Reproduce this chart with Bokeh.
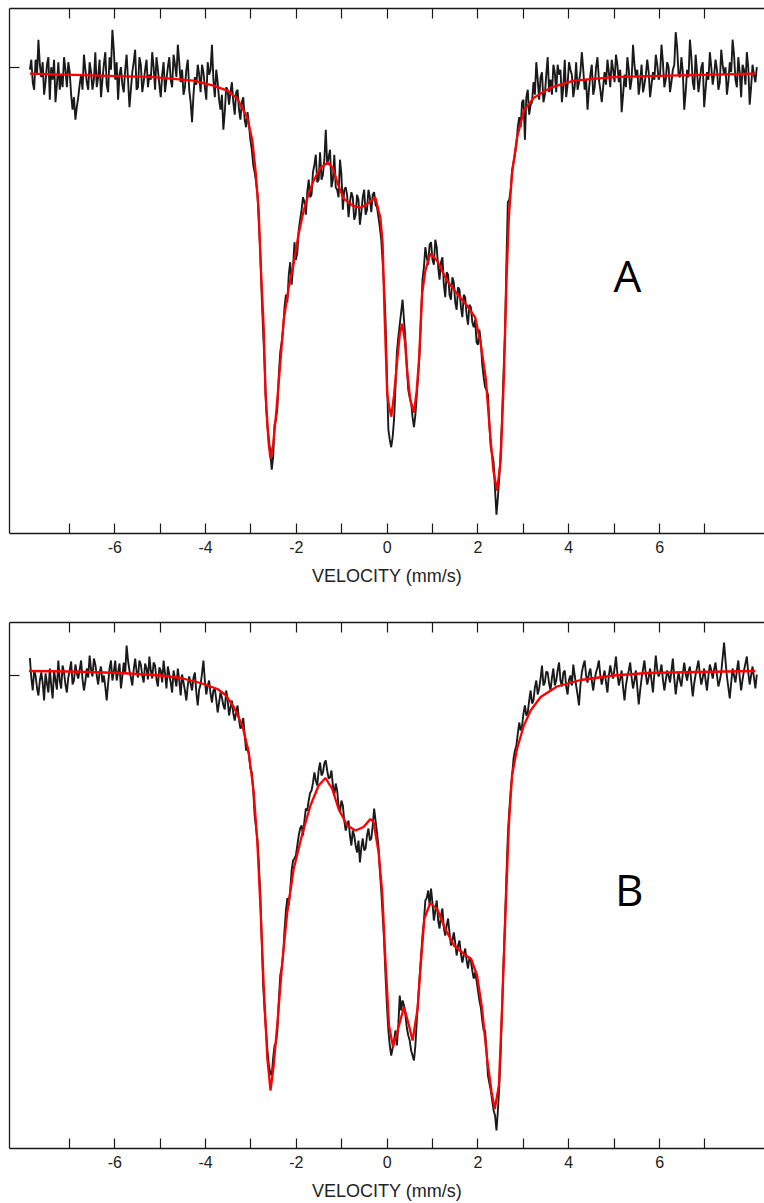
import numpy as np
from bokeh.plotting import figure
from bokeh.models import Range1d, LinearAxis, FixedTicker, Label
from bokeh.layouts import column
from bokeh.embed import file_html
from bokeh.resources import INLINE

# channel velocities (mm/s): 512 equally spaced spectrometer channels
n_channels = 512
velocity = np.linspace(-7.87, 8.1413, n_channels)

# spectrum A, relative transmission (%): even channels
counts_a_even = [
    99.95, 99.70, 100.15, 100.55, 99.80, 99.45, 100.05, 99.35, 99.75, 99.30,
    100.10, 99.85, 100.20, 99.60, 99.90, 99.15, 98.95, 99.40, 99.85, 100.25,
    99.70, 100.10, 99.55, 100.30, 99.80, 99.40, 100.05, 99.65, 100.20, 100.75,
    99.75, 99.35, 100.00, 99.50, 100.25, 99.20, 99.90, 100.35, 99.60, 100.05,
    99.70, 100.15, 99.85, 100.30, 99.55, 99.95, 99.40, 100.10, 99.75, 100.20,
    99.60, 100.05, 100.45, 99.70, 99.45, 99.95, 99.55, 98.90, 99.80, 100.05,
    99.50, 99.90, 99.35, 99.85, 100.45, 99.40, 99.70, 99.15, 98.75, 99.60,
    99.25, 99.70, 99.05, 99.55, 98.95, 99.40, 98.80, 98.85, 98.35, 97.90,
    97.45, 96.30, 94.70, 93.25, 92.55, 91.95, 92.85, 93.20, 94.30, 94.75,
    95.45, 95.85, 95.65, 96.50, 96.30, 96.95, 97.40, 97.05, 97.75, 97.45,
    98.05, 97.70, 98.30, 97.85, 98.75, 98.20, 97.60, 98.25, 97.55, 98.15,
    97.15, 97.60, 97.00, 97.50, 96.95, 97.45, 96.85, 97.40, 97.05, 97.55,
    97.10, 97.50, 97.20, 96.80, 96.10, 94.95, 92.75, 92.40, 92.95, 94.30,
    94.85, 95.35, 94.55, 93.55, 93.30, 92.80, 93.45, 94.30, 95.75, 96.40,
    96.05, 96.50, 96.05, 96.40, 95.75, 96.20, 95.40, 95.85, 95.35, 95.70,
    95.15, 95.55, 95.00, 95.40, 94.85, 95.20, 94.80, 94.50, 94.75, 94.05,
    93.60, 93.45, 92.40, 92.10, 91.05, 91.80, 93.05, 94.70, 97.30, 97.55,
    98.10, 98.45, 99.00, 99.30, 98.55, 99.55, 99.25, 99.70, 100.10, 99.35,
    99.90, 99.45, 100.20, 99.75, 100.05, 99.50, 99.85, 99.30, 100.15, 99.65,
    99.95, 99.40, 100.10, 99.70, 100.30, 99.55, 99.15, 99.85, 99.45, 100.00,
    99.75, 99.30, 99.90, 100.15, 99.60, 99.95, 100.25, 99.70, 99.10, 99.85,
    100.20, 99.55, 100.45, 99.80, 99.45, 100.05, 99.65, 100.15, 99.40, 99.90,
    100.25, 99.75, 100.45, 99.60, 100.10, 99.50, 99.95, 100.70, 99.85, 100.20,
    99.15, 99.95, 100.55, 99.70, 100.25, 99.50, 100.00, 99.20, 99.90, 100.30,
    99.65, 100.15, 99.55, 100.35, 99.85, 99.45, 100.10, 100.55, 99.75, 100.20,
    99.40, 99.95, 100.30, 99.25, 100.05, 99.70,
]
# spectrum A: odd channels
counts_a_odd = [
    100.15, 99.55, 99.85, 100.05, 100.10, 99.70, 100.20, 100.00, 100.15, 99.65,
    99.55, 99.60, 99.95, 100.10, 99.45, 99.40, 99.20, 99.65, 99.55, 99.95,
    99.55, 99.90, 99.75, 99.60, 100.15, 99.75, 100.30, 99.50, 99.95, 100.35,
    100.10, 99.85, 99.65, 99.95, 99.75, 99.55, 100.10, 99.55, 100.20, 99.50,
    99.95, 99.60, 99.75, 100.00, 100.20, 99.65, 99.85, 99.50, 100.00, 99.75,
    100.25, 99.80, 100.10, 99.95, 99.60, 100.15, 99.30, 99.45, 99.65, 99.85,
    100.05, 99.60, 100.10, 99.95, 99.75, 99.95, 99.35, 99.45, 99.10, 99.55,
    99.50, 99.30, 99.50, 99.15, 99.30, 98.95, 99.10, 98.55, 98.05, 97.70,
    96.85, 95.40, 94.05, 92.80, 92.30, 92.20, 92.95, 93.85, 94.50, 95.20,
    95.30, 96.10, 96.00, 96.15, 96.75, 97.15, 97.30, 97.50, 97.40, 97.90,
    98.25, 97.75, 97.75, 98.15, 98.05, 98.35, 97.75, 97.60, 97.40, 97.85,
    97.55, 97.45, 97.30, 97.40, 97.05, 97.35, 97.10, 97.55, 97.15, 97.40,
    97.45, 97.25, 97.00, 96.55, 95.60, 93.80, 92.55, 92.60, 93.60, 94.60,
    95.10, 94.95, 94.00, 93.40, 93.00, 93.05, 93.85, 95.05, 96.00, 96.20,
    96.45, 96.15, 96.55, 96.00, 96.10, 95.65, 95.90, 95.45, 95.80, 95.30,
    95.60, 95.20, 95.45, 95.05, 95.25, 94.90, 94.95, 94.45, 94.50, 93.80,
    93.55, 92.85, 92.25, 91.55, 91.40, 92.35, 93.90, 96.10, 97.35, 97.95,
    98.25, 98.80, 98.80, 99.35, 99.40, 99.05, 99.30, 99.45, 99.75, 99.80,
    99.30, 99.85, 99.50, 99.45, 99.90, 100.05, 99.95, 99.60, 99.40, 100.10,
    99.85, 99.60, 99.55, 99.90, 99.95, 99.75, 99.55, 100.05, 99.60, 100.20,
    99.55, 99.60, 99.65, 99.90, 100.15, 99.70, 100.05, 99.95, 99.45, 99.60,
    99.95, 99.75, 100.05, 99.95, 99.70, 99.50, 99.85, 99.90, 99.65, 99.75,
    100.05, 99.85, 100.10, 99.75, 100.00, 99.70, 100.05, 100.40, 99.80, 99.90,
    99.50, 99.80, 100.20, 99.55, 99.90, 99.75, 100.10, 99.55, 99.75, 100.00,
    99.85, 99.95, 99.70, 100.05, 100.00, 99.70, 99.90, 100.25, 99.60, 99.90,
    100.05, 99.65, 100.00, 99.60, 99.85, 100.00,
]

fit_v_a = [
    -7.87, -5.15, -4.27, -3.83, -3.52, -3.30, -3.08, -2.97, -2.90, -2.83,
    -2.79, -2.72, -2.68, -2.61, -2.57, -2.51, -2.44, -2.35, -2.28, -2.17,
    -2.06, -1.95, -1.84, -1.73, -1.62, -1.47, -1.31, -1.20, -1.09, -0.96,
    -0.76, -0.59, -0.43, -0.26, -0.19, -0.15, -0.10, -0.06, 0.00, 0.04,
    0.09, 0.15, 0.22, 0.28, 0.33, 0.39, 0.44, 0.51, 0.59, 0.65,
    0.70, 0.77, 0.84, 0.95, 1.10, 1.32, 1.54, 1.76, 1.94, 2.06,
    2.17, 2.28, 2.34, 2.42, 2.50, 2.57, 2.63, 2.68, 2.75, 2.86,
    3.01, 3.23, 3.60, 4.11, 4.99, 5.73, 7.19, 8.11,
]
fit_a = [
    99.87, 99.80, 99.73, 99.63, 99.53, 99.37, 98.99, 98.53, 97.93, 97.13,
    96.13, 94.79, 93.47, 92.47, 92.17, 92.47, 93.13, 94.13, 94.93, 95.59,
    96.07, 96.67, 97.13, 97.47, 97.73, 97.99, 98.09, 97.99, 97.67, 97.37,
    97.23, 97.19, 97.27, 97.39, 97.13, 96.99, 96.47, 95.13, 93.47, 93.23,
    93.01, 93.43, 94.13, 94.67, 94.87, 94.53, 93.93, 93.33, 93.09, 93.53,
    94.13, 95.47, 95.93, 96.27, 96.13, 95.73, 95.47, 95.23, 94.99, 94.47,
    93.79, 92.53, 91.93, 91.53, 92.13, 93.79, 95.79, 96.99, 97.87, 98.59,
    99.13, 99.39, 99.59, 99.73, 99.80, 99.82, 99.85, 99.87,
]

# spectrum B, relative transmission (%): even channels
counts_b_even = [
    100.35, 99.70, 100.00, 99.60, 100.06, 99.50, 99.84, 100.14, 99.54, 99.90,
    100.30, 99.74, 100.06, 99.66, 100.10, 99.82, 100.22, 99.94, 100.30, 99.70,
    100.14, 100.40, 99.98, 100.22, 99.82, 100.18, 100.00, 99.50, 100.14, 99.90,
    100.30, 100.06, 99.74, 100.26, 100.60, 100.10, 99.80, 100.34, 99.96, 100.22,
    99.86, 100.14, 100.38, 99.94, 100.20, 99.78, 100.10, 100.30, 99.74, 100.02,
    99.66, 99.94, 100.14, 99.60, 99.86, 99.50, 99.98, 99.70, 100.06, 99.40,
    99.82, 100.30, 99.62, 99.90, 99.46, 99.74, 99.26, 99.66, 99.40, 99.70,
    99.20, 99.50, 99.10, 99.40, 98.94, 99.15, 98.50, 98.40, 98.06, 97.20,
    96.70, 95.60, 93.80, 92.90, 92.20, 92.00, 92.60, 92.90, 94.00, 94.40,
    95.30, 95.40, 96.10, 96.34, 96.60, 96.94, 96.80, 97.34, 97.50, 97.70,
    98.06, 97.80, 98.26, 98.06, 98.30, 97.94, 98.10, 97.60, 97.70, 97.26,
    97.40, 96.90, 97.10, 96.60, 96.80, 96.46, 96.26, 96.74, 96.54, 96.94,
    96.74, 97.34, 96.86, 96.10, 95.20, 94.00, 92.90, 92.40, 92.70, 92.60,
    93.60, 93.50, 93.20, 92.80, 92.50, 92.30, 93.10, 94.00, 94.80, 95.50,
    95.70, 95.74, 95.10, 95.50, 94.94, 95.34, 94.80, 95.14, 94.60, 94.86,
    94.40, 94.70, 94.26, 94.54, 94.14, 94.30, 93.94, 93.90, 93.50, 93.10,
    92.90, 92.00, 91.70, 91.30, 90.90, 91.80, 93.40, 95.10, 96.80, 97.70,
    98.34, 98.60, 99.06, 99.00, 99.40, 99.26, 99.70, 99.50, 99.90, 99.74,
    100.20, 99.86, 100.06, 99.70, 100.14, 99.90, 100.26, 99.78, 100.10, 99.62,
    100.00, 100.22, 99.80, 99.40, 100.06, 100.30, 99.86, 100.14, 99.70, 100.06,
    100.30, 99.82, 100.10, 99.66, 100.20, 99.94, 100.38, 99.80, 100.10, 99.50,
    99.98, 100.26, 99.74, 100.10, 99.42, 99.94, 100.30, 99.82, 100.14, 99.66,
    100.40, 99.98, 100.22, 99.70, 100.10, 99.86, 100.34, 99.62, 100.06, 99.78,
    100.26, 99.90, 100.18, 99.58, 100.02, 100.30, 99.82, 100.14, 99.70, 100.22,
    99.94, 100.26, 99.78, 100.06, 100.66, 99.98, 99.54, 100.14, 99.86, 100.30,
    99.70, 100.10, 100.38, 99.82, 100.18, 99.74,
]
# spectrum B: odd channels
counts_b_odd = [
    99.95, 100.10, 99.75, 99.90, 99.85, 100.04, 99.66, 99.80, 100.10, 99.72,
    99.90, 100.20, 99.82, 99.96, 100.28, 99.90, 100.04, 100.12, 99.92, 99.88,
    99.96, 100.12, 100.34, 100.00, 100.06, 99.86, 99.78, 99.84, 100.30, 100.08,
    99.90, 100.24, 99.98, 100.04, 100.30, 99.96, 100.12, 100.08, 100.30, 100.00,
    100.24, 99.92, 100.10, 100.26, 99.92, 100.16, 99.86, 100.04, 100.18, 99.86,
    100.10, 99.78, 99.90, 100.02, 99.70, 99.80, 99.84, 99.96, 99.66, 99.72,
    100.04, 99.90, 99.80, 99.64, 99.70, 99.52, 99.46, 99.56, 99.32, 99.52,
    99.36, 99.24, 99.28, 99.12, 98.98, 98.80, 98.56, 98.14, 97.70, 96.95,
    96.20, 94.70, 93.30, 92.50, 92.05, 92.35, 92.65, 93.50, 94.15, 94.90,
    95.55, 95.70, 96.30, 96.40, 96.80, 97.00, 97.10, 97.30, 97.65, 97.85,
    97.90, 98.10, 98.00, 98.24, 98.10, 97.96, 97.80, 97.84, 97.40, 97.50,
    97.10, 97.00, 96.80, 96.90, 96.60, 96.70, 96.56, 96.50, 96.80, 96.70,
    97.00, 97.10, 96.60, 95.70, 94.70, 93.40, 92.60, 92.55, 92.90, 93.00,
    93.30, 93.40, 92.95, 92.70, 92.40, 92.60, 93.55, 94.40, 95.10, 95.55,
    95.40, 95.45, 95.30, 95.10, 95.20, 94.95, 95.00, 94.85, 94.70, 94.65,
    94.60, 94.44, 94.40, 94.30, 94.36, 94.10, 94.06, 93.70, 93.36, 92.90,
    92.50, 91.85, 91.50, 91.20, 91.30, 92.50, 94.30, 96.00, 97.30, 98.00,
    98.50, 98.84, 98.90, 99.24, 99.20, 99.50, 99.44, 99.76, 99.62, 99.94,
    99.80, 100.08, 99.84, 99.96, 99.80, 100.10, 99.90, 100.06, 99.78, 99.92,
    99.80, 100.00, 99.62, 99.80, 100.20, 100.00, 100.04, 99.90, 99.92, 100.16,
    100.00, 99.96, 99.86, 100.00, 100.04, 100.14, 100.04, 99.94, 99.76, 99.80,
    100.10, 99.96, 99.90, 99.76, 99.70, 100.12, 100.02, 99.96, 99.90, 100.04,
    100.12, 100.06, 99.92, 99.90, 100.00, 100.10, 99.94, 99.86, 99.90, 100.04,
    100.04, 100.08, 99.86, 99.84, 100.16, 100.02, 99.96, 99.90, 100.00, 100.10,
    100.12, 100.00, 99.90, 100.36, 100.30, 99.76, 99.86, 100.00, 100.10, 99.96,
    99.92, 100.24, 100.06, 100.00, 99.96, 100.02,
]

fit_v_b = [
    -7.89, -6.98, -5.87, -4.99, -4.55, -4.11, -3.74, -3.56, -3.38, -3.19,
    -3.05, -2.94, -2.86, -2.79, -2.72, -2.64, -2.57, -2.50, -2.41, -2.31,
    -2.20, -2.06, -1.87, -1.69, -1.51, -1.36, -1.21, -1.07, -0.88, -0.70,
    -0.52, -0.37, -0.30, -0.19, -0.11, -0.04, 0.04, 0.13, 0.26, 0.37,
    0.48, 0.56, 0.67, 0.75, 0.82, 0.95, 1.10, 1.28, 1.47, 1.69,
    1.85, 1.98, 2.09, 2.20, 2.30, 2.37, 2.46, 2.53, 2.61, 2.68,
    2.75, 2.86, 3.01, 3.16, 3.38, 3.74, 4.26, 4.99, 5.73, 6.83,
    8.11,
]
fit_b = [
    100.09, 100.08, 100.05, 100.00, 99.95, 99.85, 99.73, 99.61, 99.37, 99.00,
    98.47, 97.67, 96.67, 95.34, 93.80, 92.34, 91.70, 92.20, 93.14, 94.27,
    95.27, 96.13, 96.83, 97.40, 97.80, 97.95, 97.73, 97.33, 97.00, 96.90,
    96.97, 97.13, 97.07, 96.47, 95.67, 94.33, 93.00, 92.57, 93.00, 93.37,
    93.00, 92.70, 93.34, 94.34, 95.14, 95.45, 95.33, 94.93, 94.60, 94.43,
    94.33, 94.00, 93.34, 92.34, 91.67, 91.33, 91.80, 93.34, 95.34, 97.00,
    98.00, 98.53, 99.00, 99.30, 99.57, 99.78, 99.91, 100.00, 100.05, 100.07,
    100.09,
]

label_ticks = [-6, -4, -2, 0, 2, 4, 6]
odd_ticks = [-7, -5, -3, -1, 1, 3, 5, 7]
all_ticks = list(range(-7, 8))
baseline_tick = [100.0]

AX = "#1a1a1a"
TXT = "#222222"


def interleave(even, odd):
    out = np.empty(len(even) + len(odd))
    out[0::2] = even
    out[1::2] = odd
    return out


def style_axis(ax):
    ax.axis_line_color = AX
    ax.axis_line_width = 1.3
    ax.major_tick_line_color = AX
    ax.minor_tick_line_color = AX
    ax.major_tick_line_width = 1.2
    ax.minor_tick_line_width = 1.2
    ax.major_tick_in = 10
    ax.major_tick_out = 0
    ax.minor_tick_in = 10
    ax.minor_tick_out = 0


def make_panel(counts, fit_v, fit_t, yr, height, top, bottom, label_standoff,
               letter, lx, ly):
    p = figure(width=764, height=height,
               x_range=Range1d(-8.319, 8.311), y_range=Range1d(*yr),
               output_backend="svg", toolbar_location=None,
               x_axis_location=None, y_axis_location=None,
               min_border_left=9, min_border_right=0,
               min_border_top=top, min_border_bottom=bottom)
    p.outline_line_color = None
    p.xgrid.visible = False
    p.ygrid.visible = False
    p.background_fill_color = "white"
    p.border_fill_color = "white"

    p.line(velocity, counts, line_color="#1a1a1a", line_width=1.9)
    p.line(fit_v, fit_t, line_color="#ff0000", line_width=2.3)

    xb = LinearAxis(ticker=FixedTicker(ticks=label_ticks, minor_ticks=odd_ticks),
                    axis_label="VELOCITY (mm/s)")
    style_axis(xb)
    xb.major_label_overrides = {t: str(t) for t in label_ticks}
    xb.major_label_text_font = "Liberation Sans"
    xb.major_label_text_font_size = "16px"
    xb.major_label_text_color = TXT
    xb.major_label_standoff = 7
    xb.axis_label_text_font = "Liberation Sans"
    xb.axis_label_text_font_size = "18px"
    xb.axis_label_text_font_style = "normal"
    xb.axis_label_text_color = TXT
    xb.axis_label_standoff = label_standoff
    p.add_layout(xb, "below")

    xt = LinearAxis(ticker=FixedTicker(ticks=[], minor_ticks=all_ticks))
    style_axis(xt)
    p.add_layout(xt, "above")

    yl = LinearAxis(ticker=FixedTicker(ticks=[], minor_ticks=baseline_tick))
    style_axis(yl)
    p.add_layout(yl, "left")

    p.add_layout(Label(x=lx, y=ly, text=letter, text_font="Open Sans",
                       text_font_size="44px", text_color="#000000",
                       text_align="center", text_baseline="alphabetic"))
    return p


counts_a = interleave(counts_a_even, counts_a_odd)
counts_b = interleave(counts_b_even, counts_b_odd)

pa = make_panel(counts_a, fit_v_a, fit_a, (90.674, 101.174), 608, 8, 75, 10,
                "A", 5.29, 95.85)
pb = make_panel(counts_b, fit_v_b, fit_b, (90.54, 101.06), 595, 14, 55, 10,
                "B", 5.33, 95.74)

layout = column(pa, pb, spacing=0)
open("out.html", "w").write(file_html(layout, INLINE))
